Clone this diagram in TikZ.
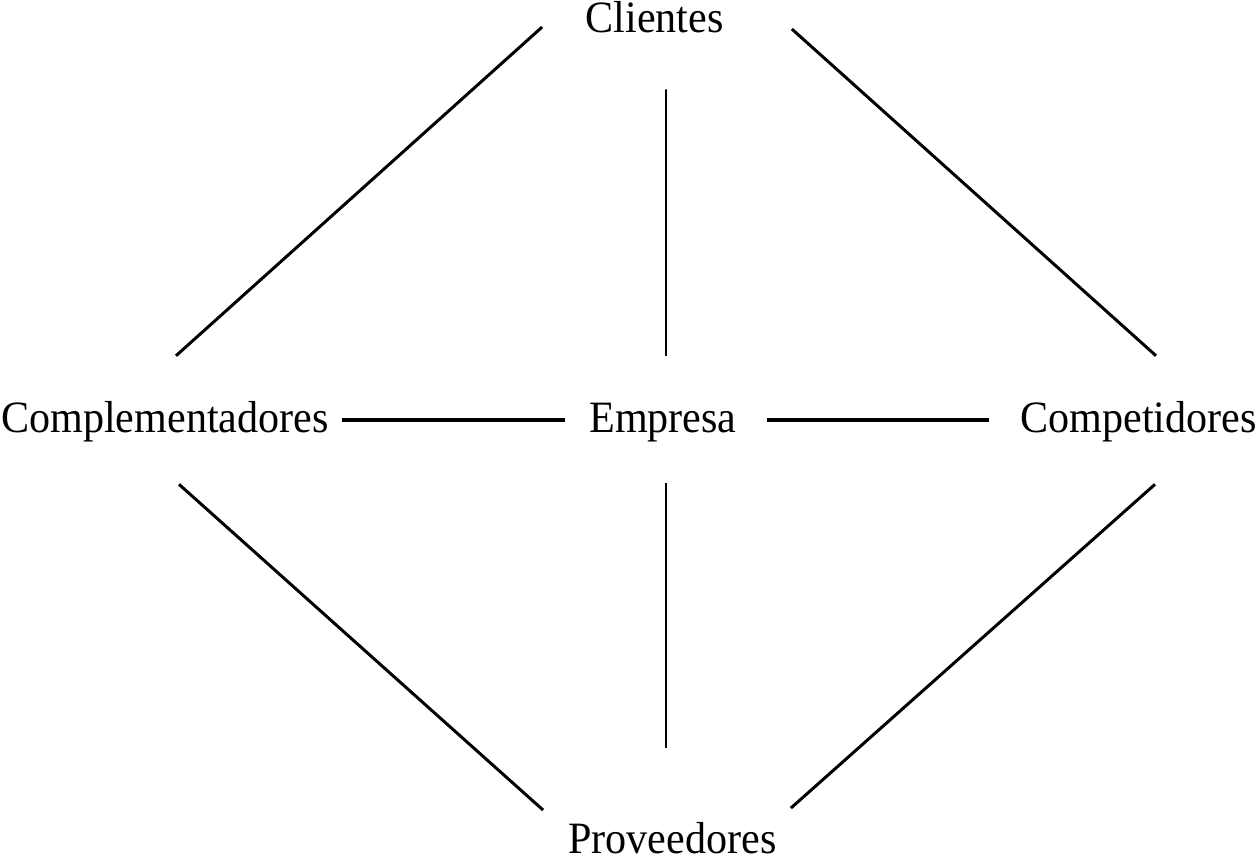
\documentclass[tikz,border=0pt]{standalone}
\usepackage{fontspec}
\setmainfont{Liberation Serif}[FakeStretch=0.94]
\begin{document}
\begin{tikzpicture}[x=0.02cm, y=-0.02cm,
    lbl/.style={inner sep=0pt, anchor=base, text height=30pt*0.567, text depth=10pt*0.567,
        font=\fontsize{25.5pt}{30pt}\selectfont},
    link/.style={line width=1.7pt},
    bar/.style={line width=2.2pt},
    spoke/.style={line width=1.1pt}]
    \useasboundingbox (0, 0) rectangle (1257, 857);
    \node[lbl] (cli) at (654.5, 33) {Clientes};
    \node[lbl] (com) at (165, 433) {Complementadores};
    \node[lbl] (emp) at (663, 433) {Empresa};
    \node[lbl] (cmp) at (1138.5, 433) {Competidores};
    \node[lbl] (pro) at (672.5, 853) {Proveedores};
    % outer diamond
    \draw[link] ([shift={(-43, 4)}]cli.west) -- ([shift={(11, -47)}]com.north);
    \draw[link] ([shift={(68, 6)}]cli.east) -- ([shift={(17.5, -47)}]cmp.north);
    \draw[link] ([shift={(14, 41)}]com.south) -- ([shift={(-25, -33)}]pro.west);
    \draw[link] ([shift={(16.5, 41)}]cmp.south) -- ([shift={(14, -35)}]pro.east);
    % cross through Empresa
    \draw[bar] ([shift={(13, -3)}]com.east) -- ([shift={(-24, -3)}]emp.west);
    \draw[bar] ([shift={(30, -3)}]emp.east) -- ([shift={(-31, -3)}]cmp.west);
    \draw[spoke] ([shift={(3, -47)}]emp.north) -- ([shift={(11.5, 46)}]cli.south);
    \draw[spoke] ([shift={(3, 40)}]emp.south) -- ([shift={(-6.5, -75)}]pro.north);
\end{tikzpicture}
\end{document}
